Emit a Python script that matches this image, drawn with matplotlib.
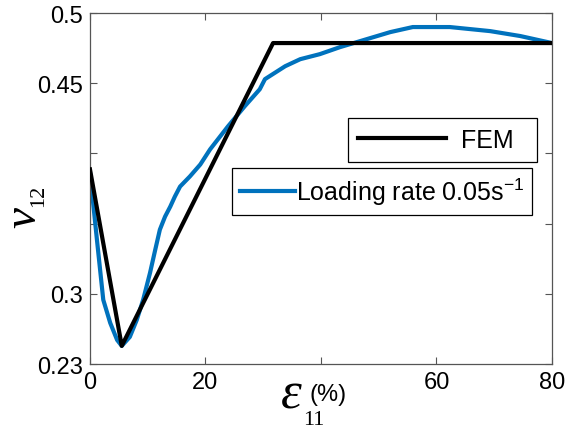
import matplotlib
matplotlib.use('Agg')
import matplotlib.pyplot as plt

plt.rcParams['font.family'] = ['Liberation Sans', 'DejaVu Sans']

# FEM prediction (strain in %, Poisson's ratio)
fem_strain = [0, 5.5, 31.7, 80]
fem_nu = [0.3886, 0.2629, 0.4786, 0.4786]

# measured, loading rate 0.05 1/s
exp_strain = [0, 1.2, 2.3, 3.5, 4.7, 5.5, 6.9, 8.1, 9.2, 10.4, 11.3, 12.1,
              13.0, 13.9, 14.7, 15.6, 17.3, 19.1, 20.8, 23.9, 26.8, 29.4,
              30.3, 33.8, 36.4, 39.8, 43.3, 46.8, 52.0, 55.9, 62.3, 69.3,
              74.5, 80]
exp_nu = [0.3864, 0.3386, 0.2957, 0.2793, 0.2671, 0.2629, 0.2693, 0.2814,
          0.2957, 0.3150, 0.3314, 0.3457, 0.3550, 0.3621, 0.3693, 0.3764,
          0.3836, 0.3921, 0.4029, 0.4193, 0.4336, 0.4457, 0.4529, 0.4621,
          0.4671, 0.4707, 0.4757, 0.4800, 0.4864, 0.4900, 0.4900, 0.4871,
          0.4836, 0.4786]

xticks = [0, 20, 40, 60, 80]
xticklabels = ['0', '20', '', '60', '80']
yticks = [0.25, 0.30, 0.35, 0.40, 0.45, 0.50]
yticklabels = ['0.23', '0.3', '', '', '0.45', '0.5']

fig = plt.figure(figsize=(5.71, 4.35), dpi=100)
ax = fig.add_axes([0.1576, 0.1609, 0.8091, 0.8069])

l_exp, = ax.plot(exp_strain, exp_nu, color='#0072BD', lw=3, zorder=2)
l_fem, = ax.plot(fem_strain, fem_nu, color='black', lw=3, zorder=3)

ax.set_xlim(0, 80)
ax.set_ylim(0.25, 0.5)
ax.set_xticks(xticks)
ax.set_xticklabels(xticklabels)
ax.set_yticks(yticks)
ax.set_yticklabels(yticklabels)
ax.tick_params(direction='in', length=5, width=0.8, color='#555555',
               labelsize=17, top=True, right=True, pad=5)
for s in ax.spines.values():
    s.set_color('#555555')
    s.set_linewidth(0.9)

leg1 = ax.legend([l_fem], ['FEM  '], loc='upper right',
                 bbox_to_anchor=(0.968, 0.701), fontsize=18, frameon=True,
                 fancybox=False, edgecolor='black', framealpha=1,
                 handlelength=3.5, handletextpad=0.6, borderpad=0.4,
                 borderaxespad=0)
leg1.get_frame().set_linewidth(0.9)
ax.add_artist(leg1)
leg2 = ax.legend([l_exp], [r'Loading rate $\mathregular{0.05s^{-1}}$'],
                 loc='upper right', bbox_to_anchor=(0.957, 0.558),
                 fontsize=18, frameon=True, fancybox=False,
                 edgecolor='black', framealpha=1, handlelength=2.2,
                 handletextpad=0.05, borderpad=0.3, borderaxespad=0)
leg2.get_frame().set_linewidth(0.9)

# axis labels built from pieces
fig.text(24 / 571, 1 - 218 / 435, 'ν', family='Liberation Serif',
         style='italic', fontsize=34, rotation=90, ha='center', va='center')
fig.text(39 / 571, 1 - 196 / 435, '12', family='Liberation Serif',
         fontsize=16, rotation=90, ha='center', va='center')
fig.text(291 / 571, 1 - 396 / 435, 'ε', family='Liberation Serif',
         style='italic', fontsize=38, ha='center', va='center')
fig.text(314 / 571, 1 - 421 / 435, '11', family='Liberation Serif',
         fontsize=16, ha='center', va='center')
fig.text(328 / 571, 1 - 395 / 435, '(%)', fontsize=17,
         ha='center', va='center')

fig.savefig('out.png', dpi=100)
